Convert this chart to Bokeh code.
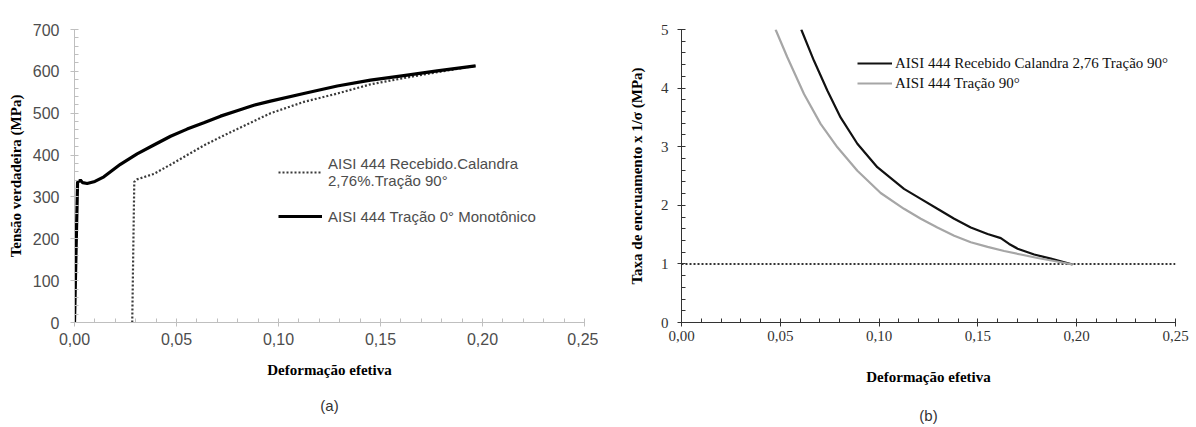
from bokeh.plotting import figure
from bokeh.models import (Range1d, FixedTicker, CustomJSTickFormatter, Legend,
                          LegendItem, LinearAxis)
from bokeh.layouts import row
from bokeh.embed import file_html
from bokeh.resources import INLINE

# ---- (a) true stress vs effective strain ----
strain_mono = [0.0, 0.0008, 0.0015, 0.0029, 0.0040, 0.0062, 0.0100, 0.0144, 0.0225,
               0.0307, 0.0389, 0.0471, 0.0552, 0.0634, 0.0716, 0.0797, 0.0879, 0.0961,
               0.1124, 0.1288, 0.1451, 0.1614, 0.1778, 0.1966]
stress_mono = [0, 180, 335, 340, 334, 332, 337, 348, 378,
               403, 424, 445, 462, 477, 493, 506, 519, 529,
               547, 565, 579, 590, 601, 613]

strain_cal = [0.0283, 0.0288, 0.0293, 0.0307, 0.0389, 0.0470, 0.0552, 0.0634, 0.0716,
              0.0797, 0.0879, 0.0961, 0.1124, 0.1288, 0.1451, 0.1614, 0.1778, 0.1966]
stress_cal = [0, 170, 336, 342, 355, 377, 400, 423, 443,
              462, 481, 500, 527, 547, 569, 584, 598, 613]

# ---- (b) work-hardening rate x 1/sigma ----
strain_cal_b = [0.0606, 0.0670, 0.0738, 0.0805, 0.0890, 0.0991, 0.1126, 0.1211, 0.1295,
                0.1380, 0.1464, 0.1549, 0.1616, 0.1658, 0.1701, 0.1785, 0.1869, 0.1979]
rate_cal_b = [5.0, 4.47, 3.96, 3.50, 3.05, 2.65, 2.28, 2.11, 1.94,
              1.77, 1.62, 1.51, 1.44, 1.34, 1.26, 1.16, 1.09, 0.99]

strain_90 = [0.0476, 0.0535, 0.0620, 0.0704, 0.0789, 0.0890, 0.1008, 0.1126, 0.1211,
             0.1295, 0.1380, 0.1464, 0.1549, 0.1633, 0.1717, 0.1802, 0.1886, 0.1979]
rate_90 = [5.0, 4.53, 3.90, 3.39, 2.99, 2.59, 2.21, 1.94, 1.77,
           1.62, 1.48, 1.37, 1.29, 1.22, 1.16, 1.10, 1.05, 0.99]

reference_level = [1.0, 1.0]
reference_strain = [0.0, 0.25]

x_ticks = [0.0, 0.05, 0.10, 0.15, 0.20, 0.25]
x_minor = [0.01, 0.02, 0.03, 0.04, 0.06, 0.07, 0.08, 0.09, 0.11, 0.12, 0.13, 0.14,
           0.16, 0.17, 0.18, 0.19, 0.21, 0.22, 0.23, 0.24]
ya_ticks = [0, 100, 200, 300, 400, 500, 600, 700]
ya_minor = [v for v in range(0, 701, 20) if v % 100]
yb_ticks = [0, 1, 2, 3, 4, 5]
yb_minor = [0.2, 0.4, 0.6, 0.8, 1.2, 1.4, 1.6, 1.8, 2.2, 2.4, 2.6, 2.8,
            3.2, 3.4, 3.6, 3.8, 4.2, 4.4, 4.6, 4.8]

comma_fmt = CustomJSTickFormatter(code="return tick.toFixed(2).replace('.', ',');")
SANS = "Liberation Sans"
SERIF = "Liberation Serif"


def style_axes(p, color, tick_font, tick_size, tick_color):
    for ax in (p.xaxis[0], p.yaxis[0]):
        ax.axis_line_color = color
        ax.major_tick_line_color = color
        ax.minor_tick_line_color = color
        ax.major_tick_in = 4
        ax.major_tick_out = 4
        ax.minor_tick_in = 4
        ax.minor_tick_out = 0
        ax.major_label_text_font = tick_font
        ax.major_label_text_font_size = tick_size
        ax.major_label_text_color = tick_color
        ax.axis_label_text_font = SERIF
        ax.axis_label_text_font_style = "bold"
        ax.axis_label_text_color = "#000000"


def panel_caption(p, text, gap):
    # a bare axis below the x axis that only carries the panel caption
    cap = LinearAxis(ticker=FixedTicker(ticks=[]), axis_line_color=None,
                     major_tick_line_color=None, minor_tick_line_color=None,
                     axis_label=text, axis_label_standoff=gap,
                     axis_label_text_font=SANS, axis_label_text_font_size="15px",
                     axis_label_text_font_style="normal",
                     axis_label_text_color="#333333")
    p.add_layout(cap, "below")


# ---------------- panel (a) ----------------
pa = figure(width=598, height=427, output_backend="svg", toolbar_location=None,
            x_range=Range1d(0, 0.25), y_range=Range1d(0, 700),
            min_border_left=74, min_border_right=14, min_border_top=16,
            min_border_bottom=105)
pa.outline_line_color = None
pa.xgrid.visible = False
pa.ygrid.visible = False
pa.xaxis.ticker = FixedTicker(ticks=x_ticks, minor_ticks=x_minor)
pa.yaxis.ticker = FixedTicker(ticks=ya_ticks, minor_ticks=ya_minor)
pa.xaxis.formatter = comma_fmt
style_axes(pa, "#bfbfbf", SANS, "16px", "#4d4d4d")
pa.xaxis.major_label_standoff = 6
pa.yaxis.major_label_standoff = 11
pa.xaxis.axis_label = "Deformação efetiva"
pa.yaxis.axis_label = "Tensão verdadeira (MPa)"
pa.xaxis.axis_label_text_font_size = "15px"
pa.yaxis.axis_label_text_font_size = "15px"
pa.xaxis.axis_label_standoff = 14
pa.yaxis.axis_label_standoff = 6

r_cal = pa.line(strain_cal, stress_cal, line_color="#3a3a3a", line_width=2.2,
                line_dash="2 2")
r_mono = pa.line(strain_mono, stress_mono, line_color="#000000", line_width=3.2)

leg_a = Legend(items=[LegendItem(label="AISI 444 Recebido.Calandra\n2,76%.Tração 90°",
                                 renderers=[r_cal]),
                      LegendItem(label="AISI 444 Tração 0° Monotônico",
                                 renderers=[r_mono])],
               location=(204, 96), padding=0, margin=0, spacing=17,
               glyph_width=44, glyph_height=20, label_standoff=6,
               label_text_font=SANS, label_text_font_size="15px",
               label_text_color="#4d4d4d", border_line_color=None,
               background_fill_alpha=0)
pa.add_layout(leg_a)
panel_caption(pa, "(a)", 16)

# ---------------- panel (b) ----------------
pb = figure(width=598, height=427, output_backend="svg", toolbar_location=None,
            x_range=Range1d(0, 0.25), y_range=Range1d(0, 5),
            min_border_left=83, min_border_right=21, min_border_top=29,
            min_border_bottom=105)
pb.outline_line_color = None
pb.xgrid.visible = False
pb.ygrid.visible = False
pb.xaxis.ticker = FixedTicker(ticks=x_ticks, minor_ticks=x_minor)
pb.yaxis.ticker = FixedTicker(ticks=yb_ticks, minor_ticks=yb_minor)
pb.xaxis.formatter = comma_fmt
style_axes(pb, "#333333", SERIF, "15px", "#333333")
pb.xaxis.major_label_standoff = 4
pb.yaxis.major_label_standoff = 9
pb.xaxis.axis_label = "Deformação efetiva"
pb.yaxis.axis_label = "Taxa de encruamento x 1/σ (MPa)"
pb.xaxis.axis_label_text_font_size = "15px"
pb.yaxis.axis_label_text_font_size = "15px"
pb.xaxis.axis_label_standoff = 25
pb.yaxis.axis_label_standoff = 13

pb.line(reference_strain, reference_level, line_color="#333333", line_width=2,
        line_dash="2 2")
r_b1 = pb.line(strain_cal_b, rate_cal_b, line_color="#111111", line_width=2.2)
r_b2 = pb.line(strain_90, rate_90, line_color="#a6a6a6", line_width=2.2)

leg_b = Legend(items=[LegendItem(label="AISI 444 Recebido Calandra 2,76 Tração 90°",
                                 renderers=[r_b1]),
                      LegendItem(label="AISI 444 Tração 90°", renderers=[r_b2])],
               location=(176, 229), padding=0, margin=0, spacing=0,
               glyph_width=35, glyph_height=20, label_height=20, label_standoff=3,
               label_text_font=SERIF, label_text_font_size="15px",
               label_text_color="#111111", border_line_color=None,
               background_fill_alpha=0)
pb.add_layout(leg_b)
panel_caption(pb, "(b)", 19)

layout = row(pa, pb)
open("out.html", "w").write(file_html(layout, INLINE))
